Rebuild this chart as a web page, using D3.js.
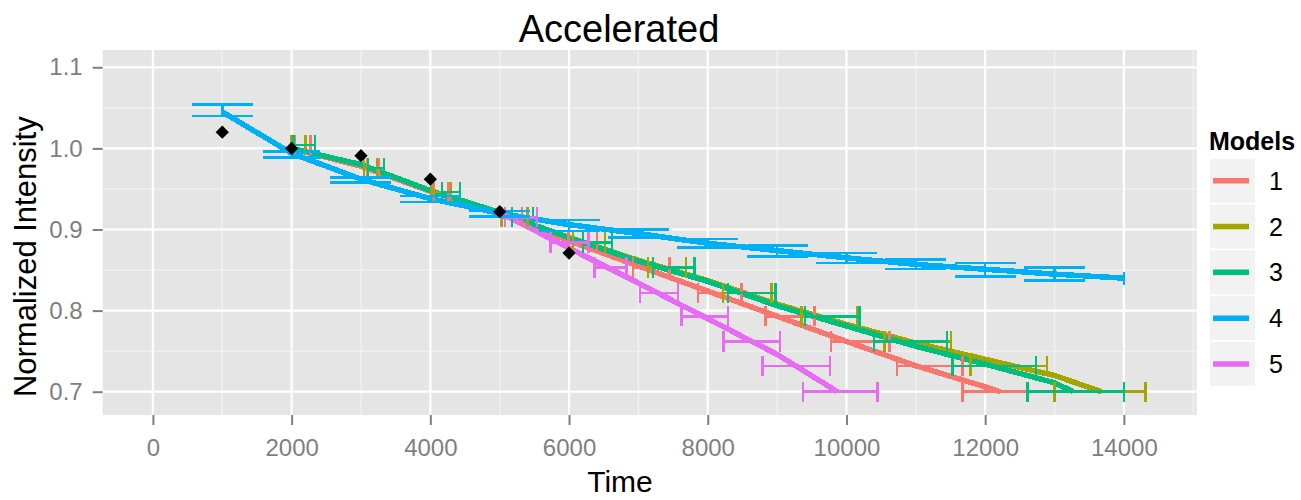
<!DOCTYPE html>
<html><head><meta charset="utf-8">
<script src="https://cdn.jsdelivr.net/npm/d3@7"></script>
<style>body{margin:0;background:#fff}svg{display:block;font-family:"Liberation Sans",Arial,sans-serif}</style>
</head><body><svg id="c" width="1301" height="500"></svg>
<script>
// ---------- data ----------
const modelNames = ["1","2","3","4","5"];
const modelColors = ["#F8766D","#A3A500","#00BF7D","#00B0F6","#E76BF3"];
const xTicks = [0,2000,4000,6000,8000,10000,12000,14000];
const xMinor = [1000,3000,5000,7000,9000,11000,13000,15000];
const yTicks = [0.7,0.8,0.9,1.0,1.1];
const yTickLabels = ["0.7","0.8","0.9","1.0","1.1"];
const yMinor = [0.75,0.85,0.95,1.05];

// model curves (time, normalized intensity)
const m1Time = [2000,3000,4000,5000,6000,7000,8000,9000,10000,11000,12000,12220];
const m1Val  = [1.0,0.978,0.947,0.920,0.886,0.855,0.824,0.793,0.762,0.732,0.706,0.700];
const m2Time = [2000,3000,4000,5000,6000,7000,8000,9000,10000,11000,12000,13000,13680];
const m2Val  = [1.0,0.980,0.948,0.921,0.890,0.862,0.837,0.808,0.783,0.760,0.740,0.720,0.700];
const m3Time = [2000,3000,4000,5000,6000,7000,8000,9000,10000,11000,12000,13000,13270];
const m3Val  = [1.0,0.980,0.948,0.921,0.890,0.861,0.836,0.806,0.781,0.756,0.734,0.711,0.700];
const m4Time = [1000,2000,3000,4000,5000,6000,7000,8000,9000,10000,11000,12000,13000,14000];
const m4Val  = [1.045,0.994,0.962,0.938,0.920,0.906,0.895,0.883,0.874,0.865,0.857,0.851,0.845,0.840];
const m5Time = [5000,6000,7000,8000,9000,9870];
const m5Val  = [0.921,0.877,0.834,0.790,0.746,0.700];

// horizontal error bars (time ranges) at intensity levels
const levels = [1.004,0.976,0.946,0.915,0.884,0.853,0.822,0.793,0.762,0.732,0.700];
const m1Lo = [2050,3090,4050,5020,5990,6920,7860,8830,9780,10730,11670];
const m1Hi = [2270,3250,4260,5320,6400,7450,8490,9540,10620,11670,12600];
const m2Lo = [1990,3040,4020,5030,6060,7140,8220,9350,10550,11790,13000];
const m2Hi = [2200,3230,4300,5400,6520,7690,8920,10150,11510,12890,14310];
const m3Lo = [2030,3100,4170,5180,6200,7210,8290,9400,10400,11530,12610];
const m3Hi = [2340,3330,4430,5480,6620,7810,8980,10190,11450,12730,14000];
const m5Levels = [0.915,0.884,0.853,0.822,0.793,0.762,0.732,0.700];
const m5Lo = [5080,5730,6370,7020,7620,8230,8790,9370];
const m5Hi = [5535,6280,6830,7570,8290,9040,9760,10450];

// vertical error bars for model 4
const m4BarTime = [1000,2000,3000,4000,5000,6000,7000,8000,9000,10000,11000,12000,13000,14000];
const m4BarLo   = [1.040,0.989,0.958,0.934,0.916,0.898,0.890,0.878,0.867,0.859,0.851,0.842,0.837,0.832];
const m4BarHi   = [1.054,0.996,0.964,0.941,0.923,0.912,0.900,0.888,0.880,0.871,0.863,0.859,0.853,0.848];
const m4BarWidth = [880,820,880,880,880,880,880,880,880,880,880,880,880,0];

// observed points
const obsTime = [1000,2000,3000,4000,5000,6000];
const obsVal  = [1.020,1.000,0.991,0.962,0.922,0.871];

// ---------- layout ----------
const P = {left:102.7, right:1196.7, top:50, bottom:415};
const x = d3.scaleLinear().domain([-724, 15050]).range([P.left, P.right]);
const y = d3.scaleLinear().domain([0.6713, 1.1213]).range([P.bottom, P.top]);
const svg = d3.select("#c");

svg.append("rect").attr("x",P.left).attr("y",P.top).attr("width",P.right-P.left).attr("height",P.bottom-P.top).attr("fill","#E5E5E5");
const grid = svg.append("g");
grid.selectAll(".xm").data(xMinor.filter(v=>x(v)<P.right)).join("line").attr("x1",d=>x(d)).attr("x2",d=>x(d)).attr("y1",P.top).attr("y2",P.bottom).attr("stroke","#F2F2F2").attr("stroke-width",1.2);
grid.selectAll(".ym").data(yMinor).join("line").attr("y1",d=>y(d)).attr("y2",d=>y(d)).attr("x1",P.left).attr("x2",P.right).attr("stroke","#F2F2F2").attr("stroke-width",1.2);
grid.selectAll(".xM").data(xTicks).join("line").attr("x1",d=>x(d)).attr("x2",d=>x(d)).attr("y1",P.top).attr("y2",P.bottom).attr("stroke","#fff").attr("stroke-width",2.2);
grid.selectAll(".yM").data(yTicks).join("line").attr("y1",d=>y(d)).attr("y2",d=>y(d)).attr("x1",P.left).attr("x2",P.right).attr("stroke","#fff").attr("stroke-width",2.2);

// axes
const ax = svg.append("g").attr("transform",`translate(0,${P.bottom})`)
  .call(d3.axisBottom(x).tickValues(xTicks).tickFormat(d3.format("d")).tickSize(10).tickPadding(14));
const ay = svg.append("g").attr("transform",`translate(${P.left},0)`)
  .call(d3.axisLeft(y).tickValues(yTicks).tickFormat((d,i)=>yTickLabels[i]).tickSize(10).tickPadding(10));
[ax,ay].forEach(g=>{
  g.select(".domain").remove();
  g.selectAll(".tick line").attr("stroke","#7F7F7F").attr("stroke-width",2);
  g.selectAll(".tick text").attr("fill","#7F7F7F").attr("font-size",24).attr("font-family","Liberation Sans, Arial, sans-serif");
});

// marks
const series = [
  {t:m1Time,v:m1Val},{t:m2Time,v:m2Val},{t:m3Time,v:m3Val},{t:m4Time,v:m4Val},{t:m5Time,v:m5Val}
];
const line = d3.line().x(d=>x(d[0])).y(d=>y(d[1]));
const marks = svg.append("g").attr("shape-rendering","crispEdges");
series.forEach((s,i)=>{
  marks.append("path").datum(s.t.map((t,j)=>[t,s.v[j]]))
    .attr("d",line).attr("fill","none").attr("stroke",modelColors[i]).attr("stroke-width",5.5)
    .attr("stroke-linejoin","round");
});

const capH = 0.0125;
const hbars = [
  {lv:levels,lo:m1Lo,hi:m1Hi,c:0},{lv:levels,lo:m2Lo,hi:m2Hi,c:1},{lv:levels,lo:m3Lo,hi:m3Hi,c:2},{lv:m5Levels,lo:m5Lo,hi:m5Hi,c:4}
];
hbars.forEach(b=>{
  const g = marks.append("g").attr("stroke",modelColors[b.c]).attr("stroke-width",2.5);
  b.lv.forEach((L,j)=>{
    g.append("line").attr("x1",x(b.lo[j])).attr("x2",x(b.hi[j])).attr("y1",y(L)).attr("y2",y(L));
    g.append("line").attr("x1",x(b.lo[j])).attr("x2",x(b.lo[j])).attr("y1",y(L+capH)).attr("y2",y(L-capH));
    g.append("line").attr("x1",x(b.hi[j])).attr("x2",x(b.hi[j])).attr("y1",y(L+capH)).attr("y2",y(L-capH));
  });
});
const g4 = marks.append("g").attr("stroke",modelColors[3]).attr("stroke-width",2.5);
m4BarTime.forEach((t,j)=>{
  const w = m4BarWidth[j]/2;
  g4.append("line").attr("x1",x(t)).attr("x2",x(t)).attr("y1",y(m4BarLo[j])).attr("y2",y(m4BarHi[j]));
  if (w>0) {
    g4.append("line").attr("x1",x(t-w)).attr("x2",x(t+w)).attr("y1",y(m4BarLo[j])).attr("y2",y(m4BarLo[j]));
    g4.append("line").attr("x1",x(t-w)).attr("x2",x(t+w)).attr("y1",y(m4BarHi[j])).attr("y2",y(m4BarHi[j]));
  }
});

// observed diamonds
svg.append("g").selectAll("path").data(obsTime.map((t,j)=>[t,obsVal[j]])).join("path")
  .attr("d",d3.symbol(d3.symbolSquare,88)())
  .attr("transform",d=>`translate(${x(d[0])},${y(d[1])}) rotate(45)`).attr("fill","#000");

// titles
svg.append("text").attr("x",619).attr("y",42).attr("text-anchor","middle").attr("font-size",38).attr("fill","#000").text("Accelerated");
svg.append("text").attr("x",620).attr("y",492).attr("text-anchor","middle").attr("font-size",30).attr("fill","#000").text("Time");
svg.append("text").attr("transform","translate(36,256.7) rotate(-90)").attr("text-anchor","middle").attr("font-size",31).attr("fill","#000").text("Normalized Intensity");

// legend
const lg = svg.append("g");
lg.append("text").attr("x",1209).attr("y",150).attr("font-size",25).attr("font-weight","bold").attr("fill","#000").text("Models");
const keyY = d3.scalePoint().domain(modelNames).range([180.7,364]);
modelNames.forEach((m,i)=>{
  const cy = keyY(m);
  lg.append("rect").attr("x",1210).attr("y",cy-22).attr("width",45).attr("height",44).attr("fill","#F2F2F2");
  lg.append("line").attr("x1",1213).attr("x2",1249).attr("y1",cy).attr("y2",cy).attr("stroke",modelColors[i]).attr("stroke-width",5.5);
  lg.append("text").attr("x",1269).attr("y",cy+9).attr("font-size",25).attr("fill","#000").text(m);
});
</script></body></html>
